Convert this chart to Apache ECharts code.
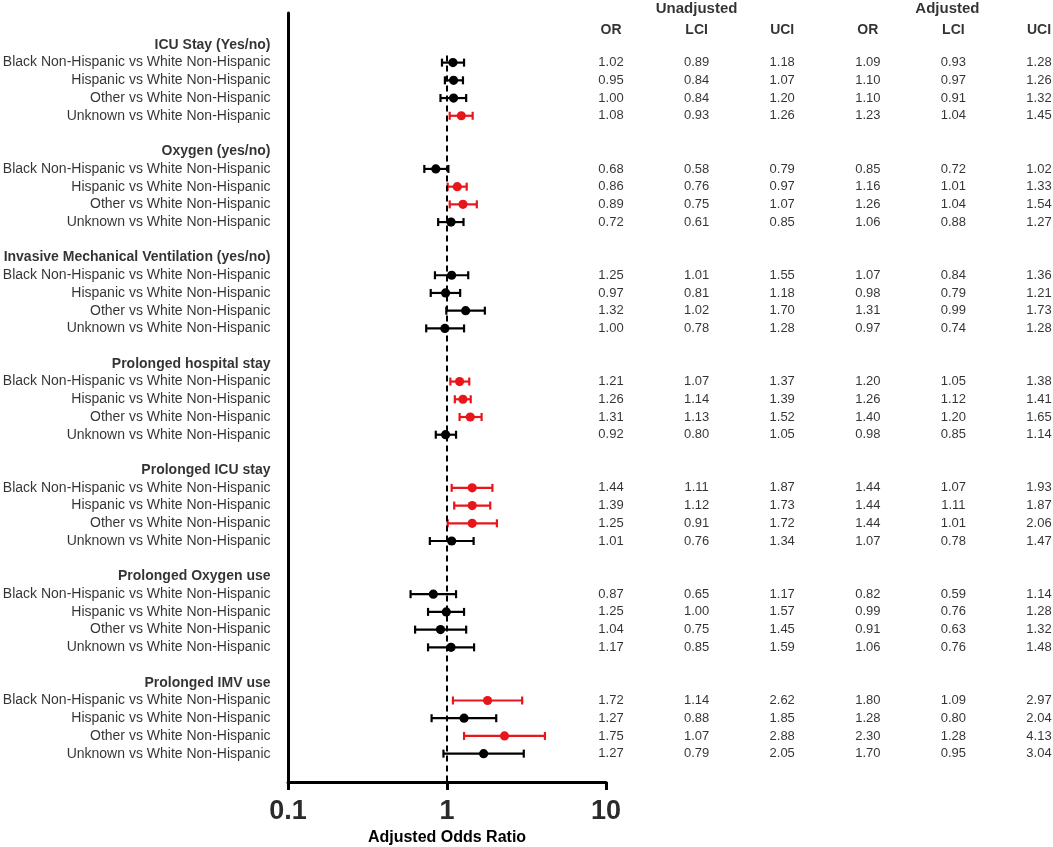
<!DOCTYPE html>
<html>
<head>
<meta charset="utf-8">
<script src="https://cdn.jsdelivr.net/npm/echarts@6/dist/echarts.min.js"></script>
<style>
  html, body { margin: 0; padding: 0; background: #fff; }
  #chart { width: 1053px; height: 847px; }
</style>
</head>
<body>
<div id="chart"></div>
<script>
var groups = ['ICU Stay (Yes/no)', 'Oxygen (yes/no)', 'Invasive Mechanical Ventilation (yes/no)',
  'Prolonged hospital stay', 'Prolonged ICU stay', 'Prolonged Oxygen use', 'Prolonged IMV use']
var comparisons = ['Black Non-Hispanic vs White Non-Hispanic', 'Hispanic vs White Non-Hispanic',
  'Other vs White Non-Hispanic', 'Unknown vs White Non-Hispanic']
var columnHeads = ['OR', 'LCI', 'UCI', 'OR', 'LCI', 'UCI']
var tableHeads = ['Unadjusted', 'Adjusted']
var xTicks = [0.1, 1, 10]

var unadjOR = [1.02, 0.95, 1.00, 1.08, 0.68, 0.86, 0.89, 0.72, 1.25, 0.97, 1.32, 1.00, 1.21, 1.26, 1.31, 0.92,
  1.44, 1.39, 1.25, 1.01, 0.87, 1.25, 1.04, 1.17, 1.72, 1.27, 1.75, 1.27]
var unadjLCI = [0.89, 0.84, 0.84, 0.93, 0.58, 0.76, 0.75, 0.61, 1.01, 0.81, 1.02, 0.78, 1.07, 1.14, 1.13, 0.80,
  1.11, 1.12, 0.91, 0.76, 0.65, 1.00, 0.75, 0.85, 1.14, 0.88, 1.07, 0.79]
var unadjUCI = [1.18, 1.07, 1.20, 1.26, 0.79, 0.97, 1.07, 0.85, 1.55, 1.18, 1.70, 1.28, 1.37, 1.39, 1.52, 1.05,
  1.87, 1.73, 1.72, 1.34, 1.17, 1.57, 1.45, 1.59, 2.62, 1.85, 2.88, 2.05]
var adjOR = [1.09, 1.10, 1.10, 1.23, 0.85, 1.16, 1.26, 1.06, 1.07, 0.98, 1.31, 0.97, 1.20, 1.26, 1.40, 0.98,
  1.44, 1.44, 1.44, 1.07, 0.82, 0.99, 0.91, 1.06, 1.80, 1.28, 2.30, 1.70]
var adjLCI = [0.93, 0.97, 0.91, 1.04, 0.72, 1.01, 1.04, 0.88, 0.84, 0.79, 0.99, 0.74, 1.05, 1.12, 1.20, 0.85,
  1.07, 1.11, 1.01, 0.78, 0.59, 0.76, 0.63, 0.76, 1.09, 0.80, 1.28, 0.95]
var adjUCI = [1.28, 1.26, 1.32, 1.45, 1.02, 1.33, 1.54, 1.27, 1.36, 1.21, 1.73, 1.28, 1.38, 1.41, 1.65, 1.14,
  1.93, 1.87, 2.06, 1.47, 1.14, 1.28, 1.32, 1.48, 2.97, 2.04, 4.13, 3.04]

var FONT = '"Liberation Sans", Arial, sans-serif'
var RED = '#e8161b'
var INK = '#000'

// every group takes 6 slots: header, 4 rows, blank
function rowPos (i) { return Math.floor(i / 4) * 6 + 1 + (i % 4) }

var headerData = groups.map(function (g, k) { return { name: g, value: [0.1, k * 6] } })
var labelData = []
var barData = []
var tableData = []
adjOR.forEach(function (v, i) {
  var y = rowPos(i)
  labelData.push({ name: comparisons[i % 4], value: [0.1, y] })
  barData.push([v, adjLCI[i], adjUCI[i], y])
  var cols = [unadjOR[i], unadjLCI[i], unadjUCI[i], adjOR[i], adjLCI[i], adjUCI[i]]
  cols.forEach(function (c, j) { tableData.push({ name: c.toFixed(2), value: [j, y] }) })
})
var colHeadData = columnHeads.map(function (h, j) { return { name: h, value: [j, -0.85] } })
var tableHeadData = [{ name: tableHeads[0], value: [1, -2.05] }, { name: tableHeads[1], value: [3.93, -2.05] }]

function textSeries (data, grid, opts) {
  return {
    type: 'scatter', xAxisIndex: grid, yAxisIndex: grid, data: data, symbolSize: 1, clip: false,
    itemStyle: { color: 'rgba(0,0,0,0)' }, silent: true,
    label: Object.assign({ show: true, formatter: '{b}', color: INK, fontFamily: FONT }, opts)
  }
}

var yRange = { min: -1.8, max: 41.6 }

var chart = echarts.init(document.getElementById('chart'))
chart.setOption({
  animation: false,
  grid: [
    { left: 288, right: 447, top: 13, bottom: 65, outerBoundsMode: 'none', containLabel: false },
    { left: 611, right: 14, top: 13, bottom: 65, outerBoundsMode: 'none', containLabel: false }
  ],
  xAxis: [
    {
      type: 'log', logBase: 10, min: xTicks[0], max: xTicks[2], gridIndex: 0,
      axisLine: { onZero: false, lineStyle: { color: '#000', width: 3 } },
      axisTick: { length: 8, lineStyle: { color: '#000', width: 3 } },
      axisLabel: { fontSize: 27, fontWeight: 'bold', color: '#2b2b2b', margin: 16, fontFamily: FONT,
        formatter: function (v) { return String(v) } },
      splitLine: { show: false },
      name: 'Adjusted Odds Ratio', nameLocation: 'middle', nameGap: 46,
      nameTextStyle: { fontSize: 16, fontWeight: 'bold', color: INK, fontFamily: FONT }
    },
    { type: 'value', min: 0, max: 5, gridIndex: 1, show: false }
  ],
  yAxis: [
    {
      type: 'value', inverse: true, min: yRange.min, max: yRange.max, gridIndex: 0,
      axisLine: { show: true, onZero: false, lineStyle: { color: '#000', width: 3 } },
      axisTick: { show: false }, axisLabel: { show: false }, splitLine: { show: false }
    },
    { type: 'value', inverse: true, min: yRange.min, max: yRange.max, gridIndex: 1, show: false }
  ],
  series: [
    {
      type: 'line', xAxisIndex: 0, yAxisIndex: 0, data: [[1, 0.6], [1, yRange.max]],
      symbol: 'none', silent: true, lineStyle: { color: '#000', width: 2, type: [6, 4] }
    },
    {
      type: 'custom', xAxisIndex: 0, yAxisIndex: 0, data: barData, silent: true,
      renderItem: function (params, api) {
        var or = api.value(0), lo = api.value(1), hi = api.value(2), y = api.value(3)
        var col = (lo > 1 || hi < 1) ? RED : '#000'
        var p = api.coord([or, y]), a = api.coord([lo, y]), b = api.coord([hi, y])
        var st = { stroke: col, lineWidth: 2.2 }
        return {
          type: 'group',
          children: [
            { type: 'line', shape: { x1: a[0], y1: a[1], x2: b[0], y2: b[1] }, style: st },
            { type: 'line', shape: { x1: a[0], y1: a[1] - 4, x2: a[0], y2: a[1] + 4 }, style: st },
            { type: 'line', shape: { x1: b[0], y1: b[1] - 4, x2: b[0], y2: b[1] + 4 }, style: st },
            { type: 'circle', shape: { cx: p[0], cy: p[1], r: 4.6 }, style: { fill: col } }
          ]
        }
      }
    },
    textSeries(headerData, 0, { position: 'left', distance: 17, fontSize: 14, fontWeight: 'bold' }),
    textSeries(labelData, 0, { position: 'left', distance: 17, fontSize: 14 }),
    textSeries(tableData, 1, { position: 'inside', fontSize: 13 }),
    textSeries(colHeadData, 1, { position: 'inside', fontSize: 14, fontWeight: 'bold' }),
    textSeries(tableHeadData, 1, { position: 'inside', fontSize: 15, fontWeight: 'bold' })
  ]
})
</script>
</body>
</html>
